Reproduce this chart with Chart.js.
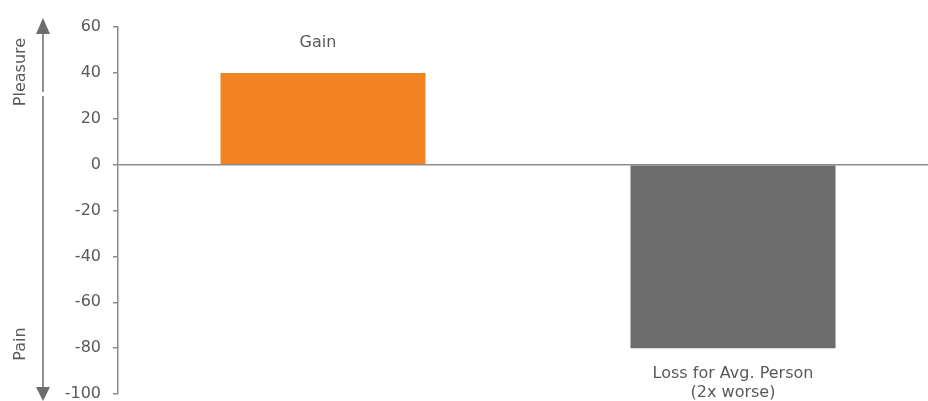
<!DOCTYPE html>
<html><head><meta charset="utf-8">
<script src="https://cdn.jsdelivr.net/npm/chart.js@4"></script>
<style>
html,body{margin:0;padding:0;overflow:hidden;background:#fff}
#wrap{width:940px;height:401px;position:relative}
</style>
</head><body><div id="wrap"><canvas id="c"></canvas></div>
<script>
const categories = [["Gain"], ["Loss for Avg. Person", "(2x worse)"]];
const values = [40, -80];
const barColors = ["#F28322", "#6D6D6D"];
const yMin = -100, yMax = 60, yStep = 20;
const axisLabels = ["Pleasure", "Pain"];

const TEXT = "#595959";
const AXIS = "#8C8C8C";
const FONT = "DejaVu Sans";

const decor = {
  id: "decor",
  afterDraw(chart) {
    const ctx = chart.ctx;
    ctx.save();
    // side arrow
    const x = 43;
    ctx.strokeStyle = "#6D6D6D";
    ctx.fillStyle = "#6D6D6D";
    ctx.lineWidth = 1.5;
    ctx.beginPath();
    ctx.moveTo(x, 30); ctx.lineTo(x, 92);
    ctx.moveTo(x, 96); ctx.lineTo(x, 390);
    ctx.stroke();
    ctx.beginPath();
    ctx.moveTo(x, 18); ctx.lineTo(x - 7, 34); ctx.lineTo(x + 7, 34); ctx.closePath(); ctx.fill();
    ctx.beginPath();
    ctx.moveTo(x, 401); ctx.lineTo(x - 7, 387); ctx.lineTo(x + 7, 387); ctx.closePath(); ctx.fill();
    // side labels
    ctx.fillStyle = TEXT;
    ctx.font = "16px '" + FONT + "'";
    ctx.textAlign = "center";
    ctx.textBaseline = "middle";
    ctx.save(); ctx.translate(21, 72); ctx.rotate(-Math.PI / 2); ctx.fillText(axisLabels[0], 0, 0); ctx.restore();
    ctx.save(); ctx.translate(21, 344); ctx.rotate(-Math.PI / 2); ctx.fillText(axisLabels[1], 0, 0); ctx.restore();
    // category labels
    const meta = chart.getDatasetMeta(0);
    ctx.textBaseline = "alphabetic";
    meta.data.forEach((bar, i) => {
      const lines = categories[i];
      const v = values[i];
      if (v >= 0) {
        lines.slice().reverse().forEach((t, k) => ctx.fillText(t, bar.x - 5, bar.y - 26 - k * 19));
      } else {
        lines.forEach((t, k) => ctx.fillText(t, bar.x, bar.y + 30 + k * 19));
      }
    });
    ctx.restore();
  }
};

new Chart(document.getElementById("c"), {
  type: "bar",
  data: {
    labels: categories.map(l => l.join(" ")),
    datasets: [{ data: values, backgroundColor: barColors, borderWidth: 0, barPercentage: 1, categoryPercentage: 0.5 }]
  },
  options: {
    responsive: true,
    maintainAspectRatio: false,
    animation: false,
    layout: { padding: { left: 58, right: 2, top: 27, bottom: 7 } },
    plugins: { legend: { display: false }, tooltip: { enabled: false } },
    scales: {
      x: { display: false },
      y: {
        min: yMin, max: yMax,
        afterFit(s) { s.width = 60; s.paddingTop = 0; s.paddingBottom = 0; },
        border: { display: true, color: AXIS, width: 1.5 },
        grid: {
          color: c => (c.tick && c.tick.value === 0) ? AXIS : "rgba(0,0,0,0)",
          tickColor: AXIS,
          lineWidth: 1.5,
          drawTicks: true,
          tickLength: 5
        },
        ticks: { stepSize: yStep, color: TEXT, padding: 12, font: { family: FONT, size: 16 } }
      }
    }
  },
  plugins: [decor]
});
</script>
</body></html>
